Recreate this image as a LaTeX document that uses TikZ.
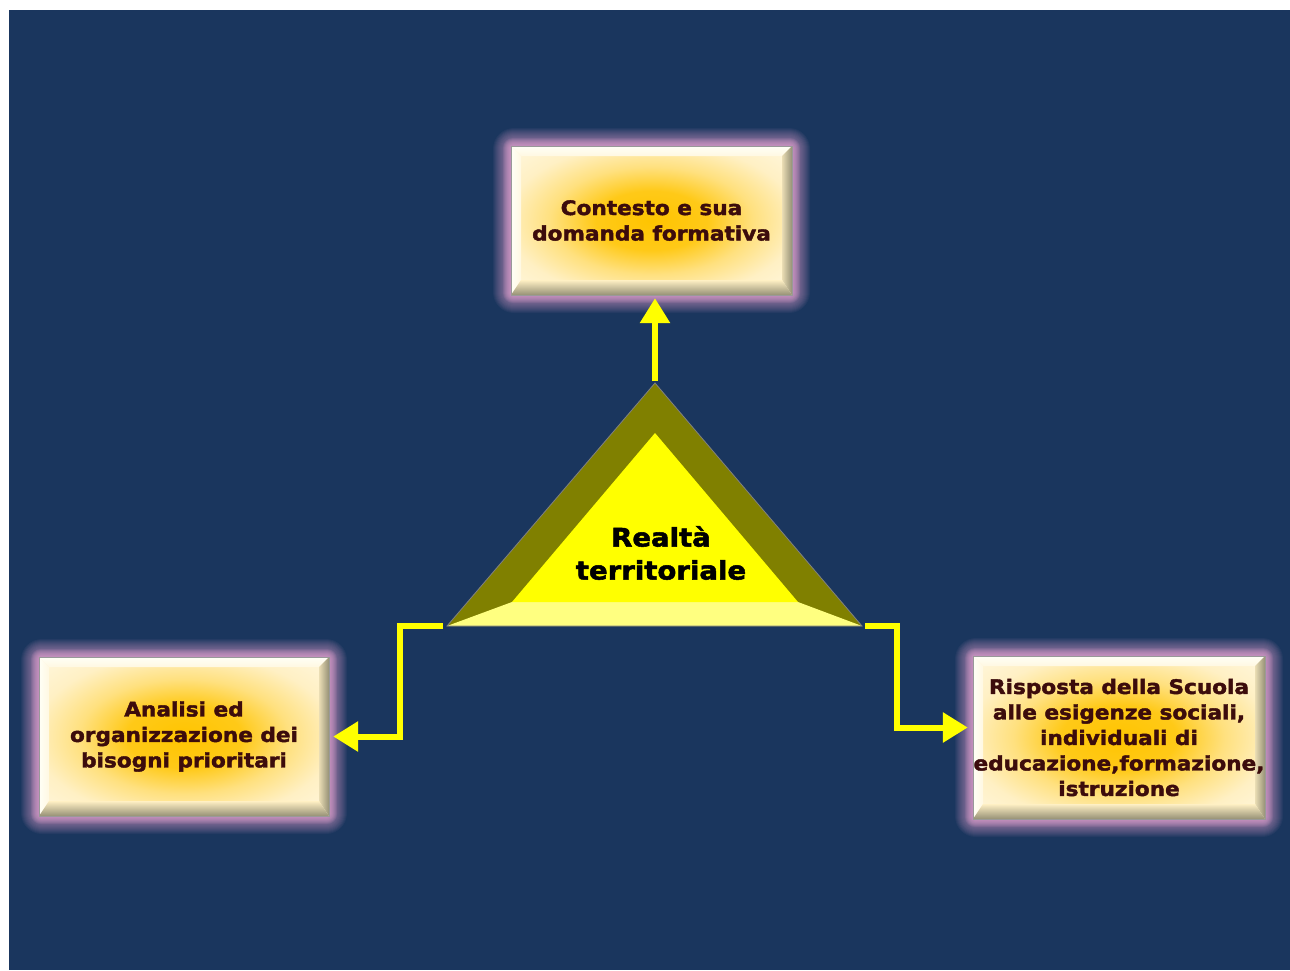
\documentclass[tikz,border=0pt]{standalone}
\usepackage{fontspec}
\newfontfamily\vfont[FakeStretch=1.08,BoldFeatures={FakeBold=2}]{DejaVu Sans}
\usetikzlibrary{arrows.meta}
\definecolor{bg}{RGB}{26,54,94}
\definecolor{glowc}{RGB}{232,166,212}
\definecolor{txt}{RGB}{60,12,12}
\definecolor{boxin}{RGB}{255,196,0}
\definecolor{boxmid}{RGB}{255,214,80}
\definecolor{boxout}{RGB}{255,240,196}
\definecolor{boxedge}{RGB}{255,248,226}
\definecolor{bevhi}{RGB}{255,255,246}
\definecolor{bevsh}{RGB}{150,145,118}
\definecolor{triolive}{RGB}{128,128,0}
\definecolor{trilight}{RGB}{255,255,128}
\definecolor{triyellow}{RGB}{255,255,0}
\pgfdeclareradialshading{boxshade}{\pgfpoint{0bp}{0bp}}{color(0bp)=(boxin); color(10bp)=(boxin!70!boxmid); color(18bp)=(boxmid!60!boxout); color(26bp)=(boxout); color(36bp)=(boxedge); color(50bp)=(boxedge)}
\tikzset{
  boxtext/.style={text=txt, align=center, inner sep=0pt, font=\vfont\bfseries\fontsize{20}{25.5}\selectfont},
  tritext/.style={text=black, align=center, inner sep=0pt, font=\vfont\bfseries\fontsize{25.5}{33}\selectfont},
  arr/.style={draw=triyellow, line width=6pt, line join=miter, -{Triangle[length=25pt,width=29pt]}},
}
\newcommand\bevbox[6]{%
  \foreach \g in {1,...,18}{\fill[glowc,opacity=0.05,rounded corners={\g pt+3pt}] (#2-\g,#3-\g) rectangle (#4+\g,#5+\g);}
  \foreach \g in {1,...,8}{\fill[glowc,opacity=0.1,rounded corners={\g pt+2pt}] (#2-\g,#3-\g) rectangle (#4+\g,#5+\g);}
  \shade[shading=boxshade] (#2,#3) rectangle (#4,#5);
  \shade[top color=bevhi, bottom color=boxedge] (#2,#3) -- (#4,#3) -- (#4-10,#3+10) -- (#2+10,#3+10) -- cycle;
  \shade[left color=bevhi, right color=boxedge] (#2,#3) -- (#2+10,#3+10) -- (#2+10,#5-15) -- (#2,#5) -- cycle;
  \shade[left color=boxout!80!bevsh, right color=bevsh] (#4,#3) -- (#4-10,#3+10) -- (#4-10,#5-15) -- (#4,#5) -- cycle;
  \shade[top color=boxout, bottom color=bevsh] (#2,#5) -- (#2+10,#5-15) -- (#4-10,#5-15) -- (#4,#5) -- cycle;
  \draw[gray!80, line width=0.8pt] (#2,#3) rectangle (#4,#5);
  \node[boxtext, minimum width={#4pt-#2pt}, minimum height={#5pt-#3pt}] (#1) at ({(#2+#4)/2},{(#3+#5)/2}) {#6};
}
\begin{document}
\begin{tikzpicture}[x=1pt,y=-1pt]
\fill[white] (0,0) rectangle (1290,970);
\useasboundingbox (0,0) rectangle (1290,970);
\fill[bg] (9,10) rectangle (1290,970);

\bevbox{topbox}{511}{146}{792}{295}{Contesto e sua\\domanda formativa}
\bevbox{leftbox}{39}{657}{329}{816}{Analisi ed\\organizzazione dei\\bisogni prioritari}
\bevbox{rightbox}{973}{656}{1265}{819}{Risposta della Scuola\\alle esigenze sociali,\\individuali di\\educazione,formazione,\\istruzione}

% triangle
\coordinate (apex) at (655,383);
\coordinate (bl) at (447,626);
\coordinate (br) at (862,626);
\fill[triolive] (apex) -- (bl) -- (br) -- cycle;
\fill[trilight] (bl) -- (512,602) -- (798,602) -- (br) -- cycle;
\fill[triyellow] (655,433) -- (512,602) -- (798,602) -- cycle;
\draw[gray, line width=0.8pt] (apex) -- (bl) -- (br) -- cycle;
\node[tritext] (real) at (661,553) {Realtà\\territoriale};

% connectors
\coordinate (upstart) at (655,381);
\coordinate (lstart) at (443,626);
\coordinate (rstart) at (865,626);
\draw[arr, shorten >=3pt] (upstart) -- (upstart |- topbox.south);
\draw[arr, shorten >=4pt] (lstart) -- ++(-43,0) |- (leftbox.east);
\draw[arr, shorten >=5pt] (rstart) -- ++(32,0) |- ([yshift=10pt]rightbox.west);
\end{tikzpicture}
\end{document}
